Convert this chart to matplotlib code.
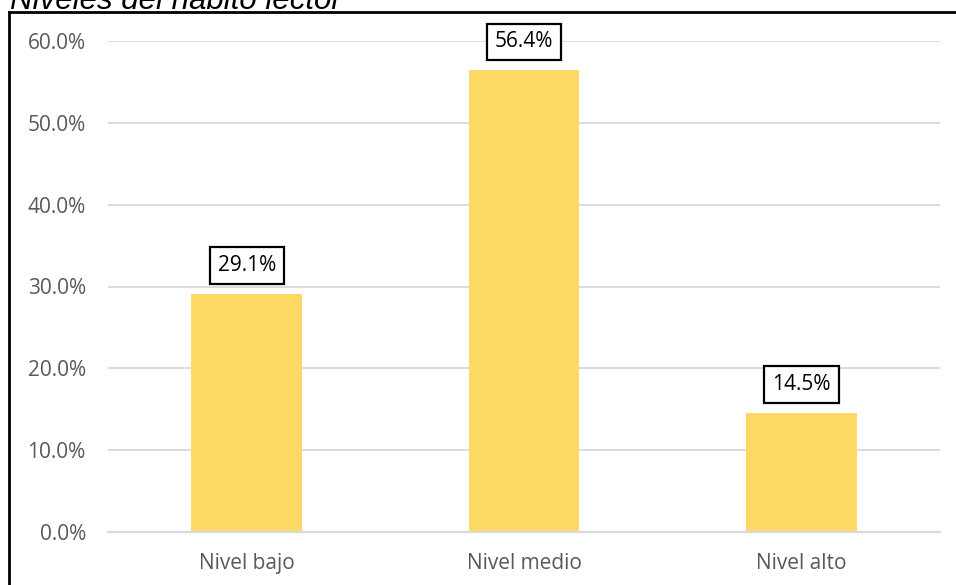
import matplotlib
matplotlib.use("Agg")
import matplotlib.pyplot as plt
from matplotlib.ticker import PercentFormatter
from matplotlib.lines import Line2D

categories = ["Nivel bajo", "Nivel medio", "Nivel alto"]
values = [29.1, 56.4, 14.5]
yticks = [0, 10, 20, 30, 40, 50, 60]
title = "Niveles del hábito lector"

W, H = 956, 585
fig = plt.figure(figsize=(W / 100, H / 100), dpi=100)
ax = fig.add_axes([108 / W, (H - 532) / H, (940 - 108) / W, (532 - 41) / H])

x = range(len(categories))
ax.bar(x, values, width=0.4, color="#FFD966", zorder=2)
ax.set_xlim(-0.5, len(categories) - 0.5)
ax.set_ylim(0, 60)
ax.set_yticks(yticks)
ax.yaxis.set_major_formatter(PercentFormatter(decimals=1))
ax.set_xticks(list(x))
ax.set_xticklabels(categories)
ax.grid(axis="y", color="#D9D9D9", linewidth=1.3, zorder=0)
for s in ["top", "right", "left"]:
    ax.spines[s].set_visible(False)
ax.spines["bottom"].set_color("#D9D9D9")
ax.spines["bottom"].set_linewidth(1.6)
ax.tick_params(axis="both", length=0, colors="#595959", labelsize=15)
ax.tick_params(axis="y", pad=16)
ax.tick_params(axis="x", pad=15)
for lab in ax.get_xticklabels() + ax.get_yticklabels():
    lab.set_fontfamily("Open Sans")

for xi, v in zip(x, values):
    ax.annotate(f"{v:.1f}%", (xi, v), xytext=(0, 20.5), textcoords="offset points",
                ha="center", va="center", fontsize=15, family="Open Sans", color="black",
                bbox=dict(boxstyle="square,pad=0.38", fc="white", ec="black", lw=1.6),
                zorder=5)

# frame lines (top and left)
fig.add_artist(Line2D([9 / W, 1], [1 - 12 / H, 1 - 12 / H], color="black", lw=2, transform=fig.transFigure))
fig.add_artist(Line2D([9 / W, 9 / W], [0, 1 - 12 / H], color="black", lw=2, transform=fig.transFigure))

fig.text(10 / W, 1 - 9 / H, title, ha="left", va="baseline", fontsize=22.5,
         style="italic", family="Liberation Sans", color="black")

fig.savefig("out.png", dpi=100)
